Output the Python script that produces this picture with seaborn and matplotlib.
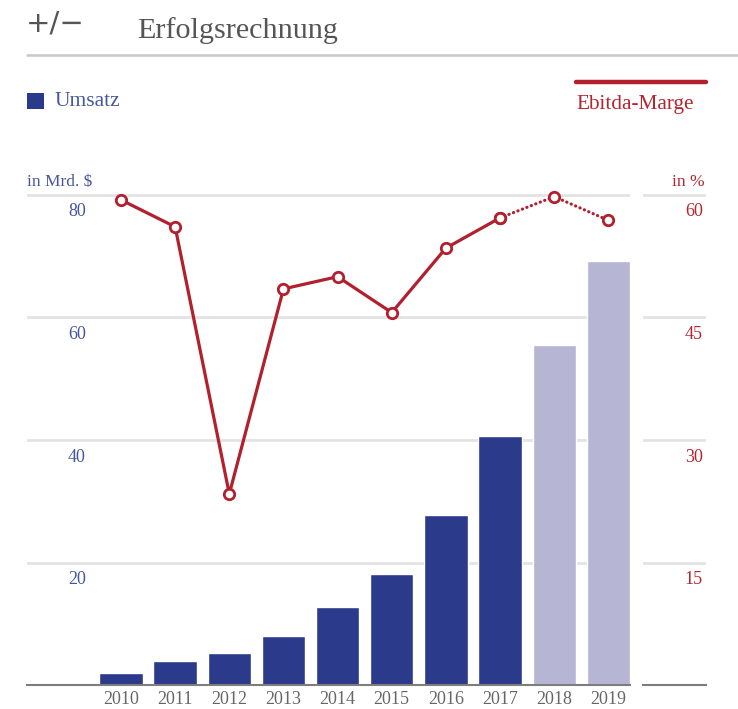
import numpy as np
import pandas as pd
import matplotlib
matplotlib.use("Agg")
import matplotlib.pyplot as plt
import matplotlib.transforms as mtransforms
from matplotlib.lines import Line2D
from matplotlib.patches import Rectangle
import seaborn as sns

# --- data -------------------------------------------------------------
years = ["2010", "2011", "2012", "2013", "2014", "2015", "2016", "2017", "2018", "2019"]
umsatz = [2.0, 3.9, 5.2, 8.0, 12.7, 18.1, 27.7, 40.7, 55.5, 69.2]          # Mrd. $
ebitda_marge = [59.4, 56.1, 23.4, 48.5, 50.0, 45.6, 53.5, 57.2, 59.8, 56.9]  # %
n_actual = 8  # 2010-2017 reported, 2018-2019 forecast
left_ticks = [20, 40, 60, 80]
right_ticks = [15, 30, 45, 60]

# --- style ------------------------------------------------------------
sns.set_theme(style="white")
plt.rcParams["font.family"] = ["Liberation Serif", "DejaVu Serif"]

BLUE = "#2c3a8c"
BLUE_LIGHT = "#b7b5d4"
RED = "#b21f2d"
TXT_BLUE = "#4656a0"
TXT_RED = "#b3262f"
GRID = "#e3e3e3"
BASE = "#7d7d7d"

W, H = 738, 709
fig = plt.figure(figsize=(W / 100, H / 100), dpi=100)
fig.patch.set_facecolor("white")


def fx(px):
    return px / W


def fy(py):
    return 1 - py / H


# main plot area (pixels): x 27..630, y 185..685
left_px, right_px, top_px, bot_px = 27, 630, 185, 685
ax = fig.add_axes([fx(left_px), fy(bot_px), fx(right_px - left_px), (bot_px - top_px) / H])
y_top_left = 80 * (bot_px - top_px) / (685 - 195)
y_top_right = 60 * (bot_px - top_px) / (685 - 195)

df = pd.DataFrame({"Jahr": years, "Umsatz": umsatz})
bar_colors = [BLUE] * n_actual + [BLUE_LIGHT] * (len(years) - n_actual)
sns.barplot(data=df, x="Jahr", y="Umsatz", hue="Jahr", palette=bar_colors,
            width=0.8, saturation=1, legend=False, ax=ax, zorder=2)

ax.set_ylim(0, y_top_left)
ax.set_yticks(left_ticks)
ax.yaxis.grid(True, color=GRID, linewidth=2)
ax.xaxis.grid(False)
ax.set_axisbelow(True)
for s in ["top", "right", "left"]:
    ax.spines[s].set_visible(False)
ax.spines["bottom"].set_color(BASE)
ax.spines["bottom"].set_linewidth(1.5)
ax.tick_params(axis="y", length=0, labelleft=False)
ax.tick_params(axis="x", length=0, labelsize=13, labelcolor="#666666", pad=4)
ax.set_xlabel("")
ax.set_ylabel("")

# left value labels sit just below their gridlines
off = mtransforms.ScaledTranslation(0, -0.17, fig.dpi_scale_trans)
lab_trans = mtransforms.blended_transform_factory(ax.transAxes, ax.transData) + off
for t in left_ticks:
    ax.text((77 - left_px) / (right_px - left_px), t, str(t), transform=lab_trans,
            ha="center", va="center", fontsize=13, color=TXT_BLUE)

# EBITDA margin on the secondary scale
ax2 = ax.twinx()
x_idx = np.arange(len(years))
line_kw = dict(color=RED, linewidth=2.3, marker="o", markersize=7.5,
               markerfacecolor="white", markeredgecolor=RED, markeredgewidth=2,
               ax=ax2, legend=False)
sns.lineplot(x=x_idx[:n_actual], y=ebitda_marge[:n_actual], **line_kw)
sns.lineplot(x=x_idx[n_actual - 1:], y=ebitda_marge[n_actual - 1:],
             linestyle=(0, (0.05, 1.45)), dash_capstyle="round", **line_kw)
ax2.set_ylim(0, y_top_right)
for ln in ax2.lines:
    ln.set_clip_on(False)
ax2.axis("off")

ax.set_xlim((left_px - 121) / 54.15, (right_px - 121) / 54.15)

# right scale: its own short gridline segments and labels
axr = fig.add_axes([fx(643), fy(bot_px), fx(706 - 643), (bot_px - top_px) / H])
axr.set_ylim(0, y_top_right)
axr.set_xlim(0, 1)
axr.set_yticks(right_ticks)
axr.set_xticks([])
axr.yaxis.grid(True, color=GRID, linewidth=2)
for s in ["top", "right", "left"]:
    axr.spines[s].set_visible(False)
axr.spines["bottom"].set_color(BASE)
axr.spines["bottom"].set_linewidth(1.5)
axr.tick_params(axis="y", length=0, labelleft=False)
rlab_trans = mtransforms.blended_transform_factory(axr.transAxes, axr.transData) + off
for t in right_ticks:
    axr.text(0.95, t, str(t), transform=rlab_trans, ha="right", va="center",
             fontsize=13, color=TXT_RED)

# unit captions
fig.text(fx(27), fy(182), "in Mrd. $", ha="left", va="center", fontsize=12.5, color=TXT_BLUE)
fig.text(fx(705), fy(182), "in %", ha="right", va="center", fontsize=12.5, color=TXT_RED)

# legend entries
fig.patches.append(Rectangle((fx(27), fy(109)), fx(17), 16 / H, transform=fig.transFigure,
                             facecolor=BLUE, edgecolor="none"))
fig.text(fx(55), fy(102), "Umsatz", ha="left", va="center", fontsize=15.5, color=TXT_BLUE)
fig.lines.append(Line2D([fx(576), fx(706)], [fy(82), fy(82)], transform=fig.transFigure,
                        color=RED, linewidth=3.2))
fig.text(fx(576), fy(104), "Ebitda-Marge", ha="left", va="center", fontsize=15.3, color=TXT_RED)

# header
fig.text(fx(26), fy(24), "+/\u2212", ha="left", va="center", fontsize=21,
         color="#555555", family=["DejaVu Sans"])
fig.text(fx(137), fy(38), "Erfolgsrechnung", ha="left", va="baseline", fontsize=21.7,
         color="#555555")
fig.lines.append(Line2D([fx(27), 1.0], [fy(55), fy(55)], transform=fig.transFigure,
                        color="#c8c8c8", linewidth=1.8))

fig.savefig("out.png", dpi=100, facecolor="white")
